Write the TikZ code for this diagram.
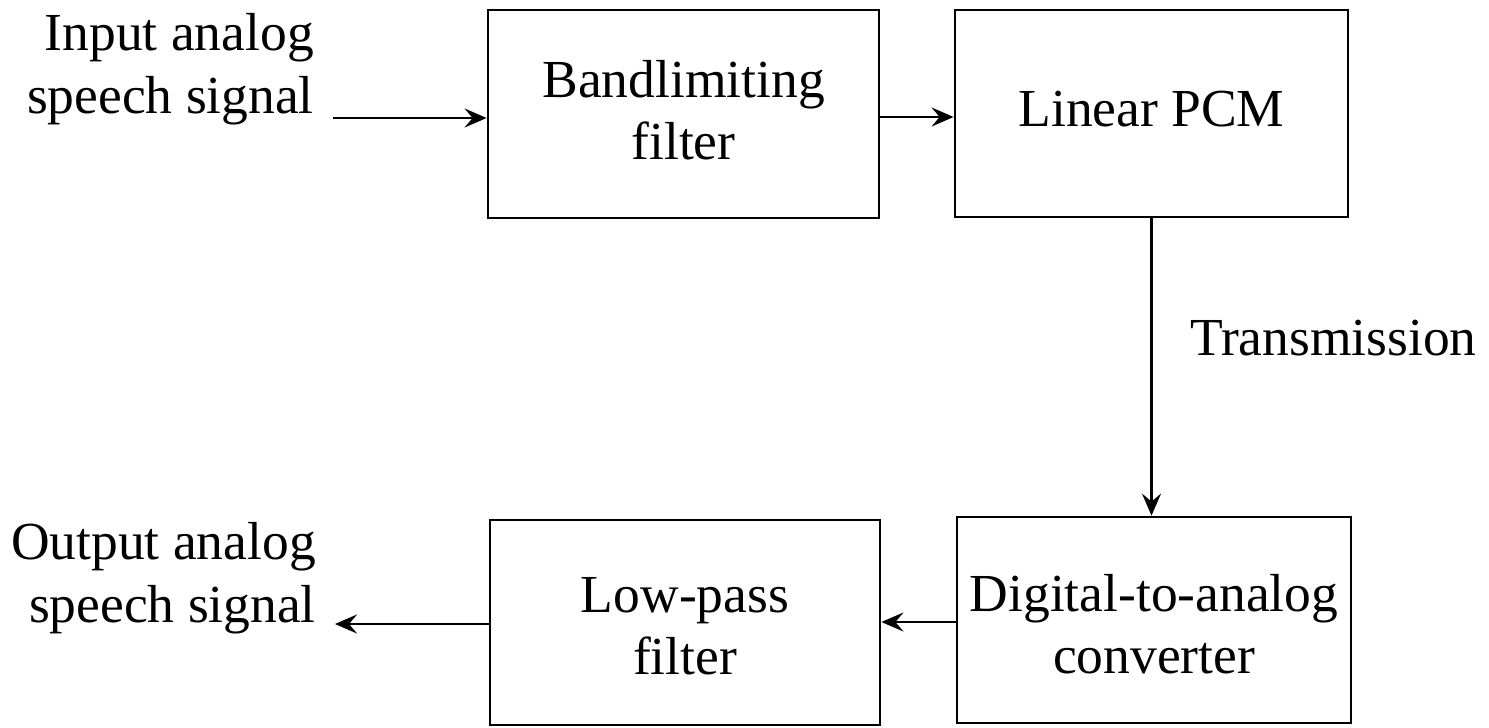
\documentclass[tikz,border=0pt]{standalone}
\usepackage{fontspec}
\setmainfont{Liberation Serif}
\usetikzlibrary{arrows.meta}

\begin{document}
\begin{tikzpicture}[x=1bp, y=-1bp,
  every node/.style={inner sep=0pt},
  txt/.style={font=\fontsize{53.5bp}{62.5bp}\selectfont},
  block/.style={draw, line width=2.8bp},
  intext/.style={txt, align=center},
  arr/.style={line width=2.4bp, -{Stealth[length=22bp, width=19bp, inset=8bp]}},
  lbl/.style={txt, align=right}
]
  % page frame
  \useasboundingbox (0,0) rectangle (1489,728);

  % processing blocks, each with its caption set slightly off-centre
  \node[block, minimum width=391bp, minimum height=208bp,
        label={[intext, yshift=4bp]center:{Bandlimiting\\filter}}] (bf) at (683.5,114) {};
  \node[block, minimum width=393bp, minimum height=207bp,
        label={[intext, yshift=4bp]center:{Linear PCM}}] (pcm) at (1151.5,113.5) {};
  \node[block, minimum width=394bp, minimum height=206bp,
        label={[intext, yshift=-4bp]center:{Digital-to-analog\\converter}}] (dac) at (1154,620) {};
  \node[block, minimum width=390bp, minimum height=205bp,
        label={[intext, yshift=-3.5bp]center:{Low-pass\\filter}}] (lpf) at (685,622.5) {};

  % signal labels
  \node[lbl, anchor=east] (inlbl)  at (314,69)  {Input analog\\speech signal};
  \node[lbl, anchor=east] (outlbl) at (316,578) {Output analog\\speech signal};
  \node[txt, anchor=base west] (tx) at (1190,355) {Transmission};

  % free ends of the input and output lines
  \coordinate (in)  at (333,118);
  \coordinate (out) at (335,624);

  % connectors
  \draw[arr] (in) -- (in -| bf.west);
  \draw[arr] (bf.east |- 0,117) -- (pcm.west |- 0,117);
  \draw[arr] (pcm.south) -- (pcm.south |- dac.north);
  \draw[arr] (dac.west |- 0,622) -- (lpf.east |- 0,622);
  \draw[arr] (lpf.west |- out) -- (out);
\end{tikzpicture}
\end{document}
